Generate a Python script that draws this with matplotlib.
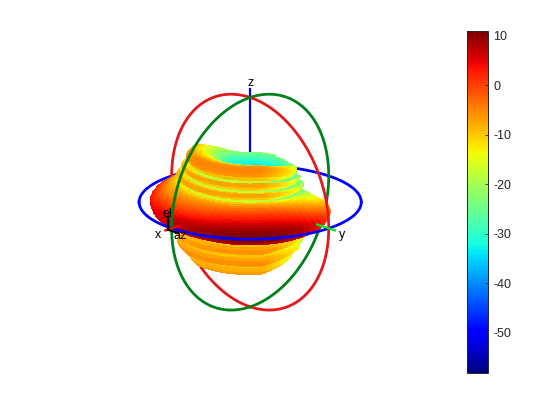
import numpy as np
import matplotlib
matplotlib.use("Agg")
import matplotlib.pyplot as plt
from matplotlib.cm import ScalarMappable
from matplotlib.colors import Normalize

plt.rcParams['font.family'] = ['Liberation Sans', 'DejaVu Sans']
plt.rcParams['axes.unicode_minus'] = False

# pattern tables (dB)
elevation_deg = [-90, -85, -80, -75, -70, -65,
                 -60, -58.75, -57.5, -56.25, -55, -53.75, -52.5, -51.25, -50, -48.75, -47.5, -46.25,
                 -45, -43.75, -42.5, -41.25, -40, -38.75, -37.5, -36.25, -35, -33.75, -32.5, -31.25,
                 -30, -28.75, -27.5, -26.25, -25, -23.75, -22.5, -21.25, -20, -18.75, -17.5, -16.25,
                 -15, -13.75, -12.5, -11.25, -10, -8.75, -7.5, -6.25, -5, -3.75, -2.5, -1.25,
                 0, 1.25, 2.5, 3.75, 5, 6.25, 7.5, 8.75, 10, 11.25, 12.5, 13.75,
                 15, 16.25, 17.5, 18.75, 20, 21.25, 22.5, 23.75, 25, 26.25, 27.5, 28.75,
                 30, 31.25, 32.5, 33.75, 35, 36.25, 37.5, 38.75, 40, 41.25, 42.5, 43.75,
                 45, 46.25, 47.5, 48.75, 50, 51.25, 52.5, 53.75, 55, 56.25, 57.5, 58.75,
                 60, 65, 70, 75, 80, 85, 90]
elevation_db = [-32, -32, -32, -33, -33, -34,
                -36, -35, -33, -30, -27, -24, -21, -18, -16, -14, -13, -11.5,
                -10, -8, -7, -6.5, -6.5, -7, -9, -12, -16, -12, -8, -6.5,
                -6, -5.5, -5.5, -6.5, -8, -11, -15, -10, -7, -6, -5.5, -6,
                -8, -11, -15, -12, -7, -3, 0, 3, 5.5, 8, 9.5, 10.5,
                11, 11, 10.5, 9.5, 8, 6.5, 5, 3.5, 2, 0.5, -1, -2.5,
                -4, -6, -8, -12, -22, -12, -8, -6.5, -8, -12, -23, -12,
                -8, -6.5, -8, -13, -24, -11, -7, -5.5, -5, -5, -5, -6,
                -7, -8.5, -10, -11.5, -13, -15, -17, -19, -21, -23, -25, -26,
                -28, -32, -32, -32, -32, -32, -32]
relative_az_deg = [-180, -175, -170, -165, -160, -155, -150, -145, -140, -135, -130, -125,
                   -120, -115, -110, -105, -100, -95, -90, -85, -80, -75, -70, -65,
                   -60, -55, -50, -45, -40, -35, -30, -25, -20, -15, -10, -5,
                   0, 5, 10, 15, 20, 25, 30, 35, 40, 45, 50, 55,
                   60, 65, 70, 75, 80, 85, 90, 95, 100, 105, 110, 115,
                   120, 125, 130, 135, 140, 145, 150, 155, 160, 165, 170, 175, 180]
main_lobe_loss_db = [-38, -37, -36, -33, -30, -25, -20, -15, -11, -9, -8, -7.5,
                     -7, -7, -7, -7, -7, -7, -7, -7, -7, -6.5, -6, -5.5,
                     -5, -4.5, -4, -3.5, -3, -2.5, -2, -1.5, -1, -0.5, 0, 0,
                     0, 0, 0, -0.5, -1, -2, -3, -4.5, -6, -7.5, -9, -11,
                     -13, -14.5, -16, -18, -20, -23, -26, -30, -33, -36, -38, -39,
                     -40, -40, -40, -40, -40, -40, -40, -40, -40, -40, -40, -40, -38]
side_lobe_loss_db = [-18, -18, -18, -17.5, -17, -16, -15, -13.5, -12, -10.5, -9, -7.5,
                     -6, -5, -4, -3.5, -3, -2.5, -2, -1.5, -1, -1, -1, -0.5,
                     0, 0, 0, 0, 0, 0, 0, 0, 0, 0, 0, 0,
                     0, 0, 0, -1, -2, -3, -4, -5, -6, -7, -8, -10,
                     -11, -12, -13, -14, -15, -16, -17, -18, -18, -19, -19, -19,
                     -19, -19, -19, -19, -19, -18, -18, -18, -18, -18, -18, -18, -18]
colorbar_ticks = [-50, -40, -30, -20, -10, 0, 10]
db_min, db_max = -58.1, 11.0
view_azimuth, view_elevation = 45, 19.5

fig = plt.figure(figsize=(5.6, 4.2), dpi=100, facecolor='white')
S = 360
ax = fig.add_axes([(250 - S * 0.513) / 560, (420 - 207 - S / 2) / 420, S / 560, S / 420],
                  projection='3d', computed_zorder=False)
ax.set_proj_type('ortho')
ax.view_init(elev=view_elevation, azim=view_azimuth)
ax.set_xlim(-1.2, 1.2); ax.set_ylim(-1.2, 1.2); ax.set_zlim(-1.2, 1.2)
ax.set_box_aspect((1, 1, 1), zoom=1.245)
ax.set_axis_off()
ax.patch.set_alpha(0)

el = np.radians(elevation_deg)
alpha = np.array(relative_az_deg, dtype=float)
share = np.clip((20 - np.abs(np.array(elevation_deg))) / 10, 0, 1)
pattern = (np.array(elevation_db)[:, None]
           + share[:, None] * np.array(main_lobe_loss_db)[None, :]
           + (1 - share[:, None]) * np.array(side_lobe_loss_db)[None, :])
pattern = np.clip(pattern, db_min, db_max)
r = (pattern - db_min) / (db_max - db_min)
az = np.radians(alpha + view_azimuth)
EL, AZ = np.meshgrid(el, az, indexing='ij')
X = r * np.cos(EL) * np.cos(AZ)
Y = r * np.cos(EL) * np.sin(AZ)
Z = r * np.sin(EL)

norm = Normalize(db_min, db_max)
cmap = plt.get_cmap('jet')
mid = (pattern[:-1, :-1] + pattern[1:, :-1] + pattern[:-1, 1:] + pattern[1:, 1:]) / 4

BLUE, RED, GREEN = (0, 0, 1), (0.88, 0.1, 0.1), (0, 0.5, 0.1)
LW = 2.0


def ring(t, which):
    c, s = np.cos(t), np.sin(t)
    o = np.zeros_like(t)
    return {'blue': (c, s, o), 'red': (o, c, s), 'green': (c, o, s)}[which]


# back halves, hidden by the pattern
tb = np.linspace(np.pi * 0.75, np.pi * 1.75, 200)
ax.plot(*ring(tb, 'blue'), color=BLUE, lw=LW, zorder=1)
tr = np.linspace(np.pi / 2, np.pi * 1.5, 200)
ax.plot(*ring(tr, 'red'), color=RED, lw=LW, zorder=1)
ax.plot(*ring(tr, 'green'), color=GREEN, lw=LW, zorder=1)
ax.plot([0, 0], [0, 0], [0, 1.08], color=BLUE, lw=1.6, zorder=1)

ax.plot_surface(X, Y, Z, facecolors=cmap(norm(mid)), rstride=1, cstride=1, shade=False,
                linewidth=0, antialiased=False, zorder=2)

# front halves
tf = np.linspace(-np.pi * 0.25, np.pi * 0.75, 200)
ax.plot(*ring(tf, 'blue'), color=BLUE, lw=LW, zorder=3)
tr2 = np.linspace(-np.pi / 2, np.pi / 2, 200)
ax.plot(*ring(tr2, 'red'), color=RED, lw=LW, zorder=3)
ax.plot(*ring(tr2, 'green'), color=GREEN, lw=LW, zorder=3)

ax.plot([0.9, 1.08], [0, 0], [0, 0], color=(1, 0, 0), lw=1.6, zorder=4)
ax.plot([0, 0], [0.85, 1.08], [0, 0], color=(0, 0.9, 0.1), lw=1.6, zorder=4)
ax.plot([1.05, 1.05], [0, 0.13], [0, 0], color='k', lw=1.5, zorder=5)
ax.plot([1.05, 1.05], [0, 0], [0, 0.12], color='k', lw=1.5, zorder=5)

TXT = dict(fontsize=9, color='black', ha='center', va='center', zorder=6)
ax.text(1.17, 0, -0.02, 'x', **TXT)
ax.text(0, 1.17, -0.02, 'y', **TXT)
ax.text(0, 0, 1.14, 'z', **TXT)
ax.text(1.05, 0.16, -0.02, 'az', **TXT)
ax.text(1.05, 0, 0.15, 'el', **TXT)
for axis in (ax.xaxis, ax.yaxis, ax.zaxis):
    axis.set_visible(False)
    axis.offsetText.set_visible(False)

cax = fig.add_axes([467 / 560, (420 - 373) / 420, 21 / 560, 342 / 420])
cb = fig.colorbar(ScalarMappable(norm=norm, cmap=cmap), cax=cax, ticks=colorbar_ticks)
cb.ax.tick_params(labelsize=9, length=2, width=0.6, direction='in', colors=(0.15, 0.15, 0.15), pad=4)
cb.ax.yaxis.offsetText.set_visible(False)
cb.outline.set_linewidth(0.7)
cb.outline.set_edgecolor((0.15, 0.15, 0.15))

fig.savefig('out.png', dpi=100)
